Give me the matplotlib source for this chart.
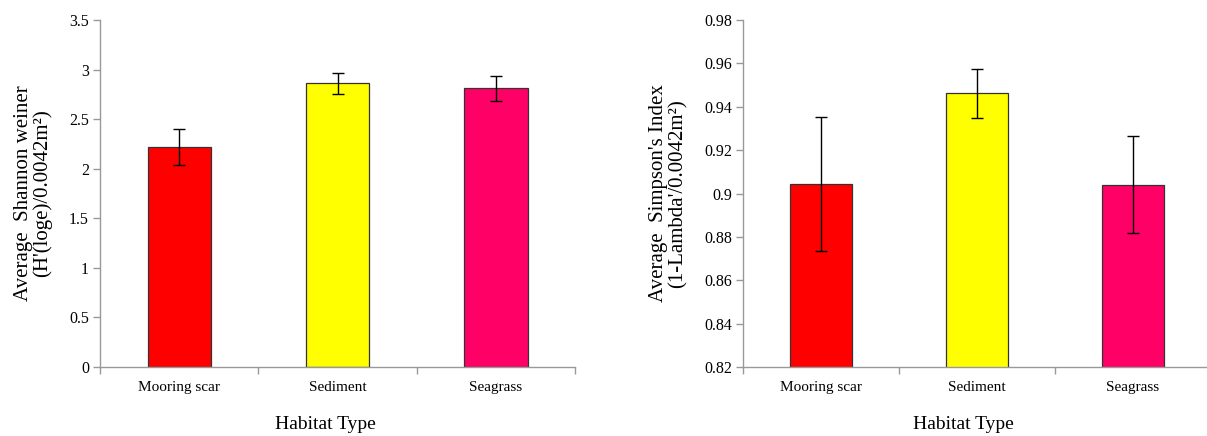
import matplotlib
matplotlib.use("Agg")
import matplotlib.pyplot as plt
from matplotlib.ticker import FixedLocator, FuncFormatter

plt.rcParams['font.family'] = ['Liberation Serif', 'DejaVu Serif']

habitats = ['Mooring scar', 'Sediment', 'Seagrass']
bar_colors = ['#FF0000', '#FFFF00', '#FF0066']

shannon_mean = [2.22, 2.86, 2.81]
shannon_err = [0.18, 0.105, 0.123]

simpson_mean = [0.9044, 0.9462, 0.9041]
simpson_err = [0.031, 0.0112, 0.0225]

W, H = 1207, 436
fig = plt.figure(figsize=(W / 100, H / 100), dpi=100)


def make_panel(rect, means, errs, ylim, yticks, ylabel, xlabel_x, ylabel_pad):
    ax = fig.add_axes(rect)
    x = list(range(len(habitats)))
    ax.bar(x, means, width=0.4, color=bar_colors, edgecolor='#333333',
           linewidth=0.9, zorder=2)
    ax.errorbar(x, means, yerr=errs, fmt='none', ecolor='black',
                elinewidth=1.0, capsize=4, capthick=1.0, zorder=3)
    ax.set_xlim(-0.5, len(habitats) - 0.5)
    ax.set_ylim(*ylim)
    ax.set_yticks(yticks)
    ax.yaxis.set_major_formatter(FuncFormatter(lambda v, p: f'{v:g}'))
    # category names sit between the boundary tick marks
    ax.xaxis.set_major_locator(FixedLocator([i - 0.5 for i in range(len(habitats) + 1)]))
    ax.set_xticklabels([])
    ax.xaxis.set_minor_locator(FixedLocator(x))
    ax.set_xticklabels(habitats, minor=True)
    ax.tick_params(axis='x', which='minor', length=0, pad=10, labelsize=11)
    ax.tick_params(axis='x', which='major', length=5, color='#999999', width=1)
    ax.tick_params(axis='y', length=5, color='#999999', width=1, labelsize=11.5, pad=3)
    for s in ('top', 'right'):
        ax.spines[s].set_visible(False)
    for s in ('left', 'bottom'):
        ax.spines[s].set_color('#999999')
        ax.spines[s].set_linewidth(1.0)
    ax.set_ylabel(ylabel, fontsize=15, linespacing=1.0, labelpad=ylabel_pad)
    ax.set_xlabel('Habitat Type', fontsize=14)
    ax.xaxis.set_label_coords(xlabel_x, -0.14)
    return ax


bottom = (H - 367) / H
height = 347 / H

make_panel([100 / W, bottom, 475 / W, height], shannon_mean, shannon_err,
           (0, 3.5), [0, 0.5, 1, 1.5, 2, 2.5, 3, 3.5],
           'Average  Shannon weiner\n(H\'(loge)/0.0042m²)', 0.475, 12)

make_panel([743 / W, bottom, 468 / W, height], simpson_mean, simpson_err,
           (0.82, 0.98), [0.82, 0.84, 0.86, 0.88, 0.9, 0.92, 0.94, 0.96, 0.98],
           'Average  Simpson\'s Index\n(1-Lambda\'/0.0042m²)', 0.47, 12)

fig.savefig('out.png', dpi=100)
